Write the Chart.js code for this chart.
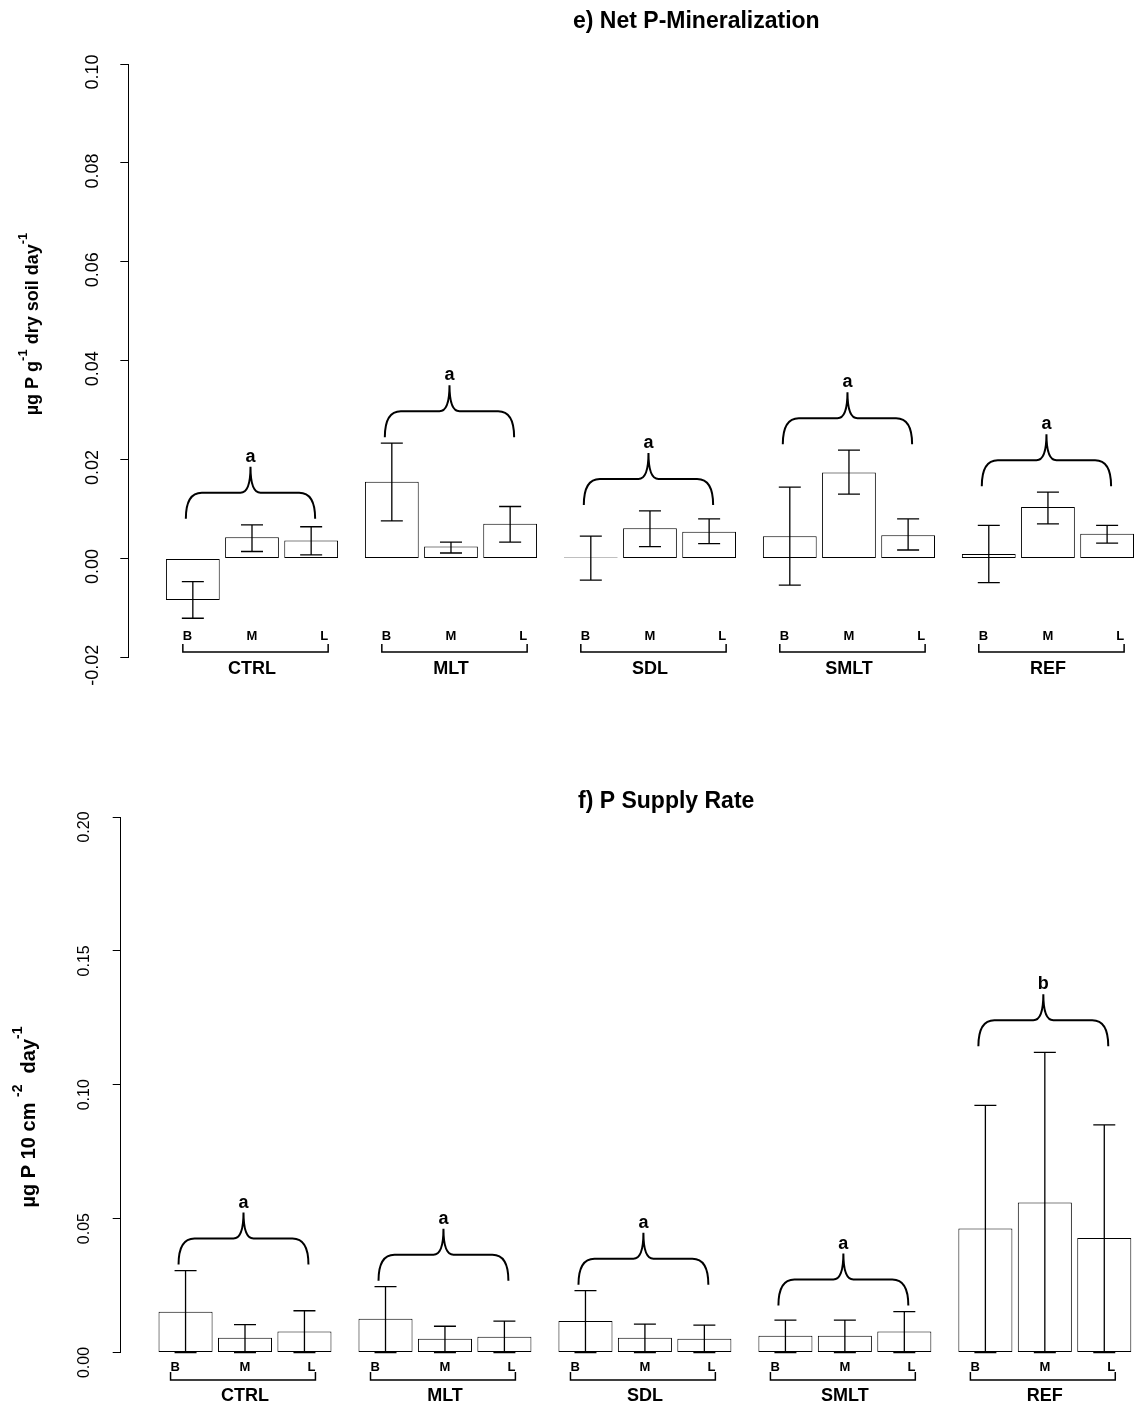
<!DOCTYPE html>
<html>
<head>
<meta charset="utf-8">
<script src="https://cdn.jsdelivr.net/npm/chart.js@4.4.0/dist/chart.umd.min.js"></script>
<style>
  html, body { margin: 0; padding: 0; background: #fff; }
  .panel { position: absolute; left: 0; width: 1134px; height: 706px; }
  #top { top: 0; }
  #bottom { top: 706px; }
</style>
</head>
<body>
<div class="panel" id="top"><canvas id="mineralChart"></canvas></div>
<div class="panel" id="bottom"><canvas id="supplyChart"></canvas></div>
<script>
// Treatments and the three levels inside each one
const groups = ['CTRL', 'MLT', 'SDL', 'SMLT', 'REF'];
const levels = ['B', 'M', 'L'];

// e) Net P-Mineralization, order: CTRL B,M,L  MLT B,M,L  SDL ...  SMLT ...  REF ...
const mineralMean = [
    -0.0084, 0.0043, 0.0036,
    0.0155, 0.0024, 0.0070,
    0.0002, 0.0061, 0.0054,
    0.0045, 0.0174, 0.0047,
    0.0009, 0.0104, 0.0050
];
const mineralLow = [
    -0.0121, 0.0014, 0.0007,
    0.0076, 0.0011, 0.0033,
    -0.0044, 0.0024, 0.0030,
    -0.0054, 0.0130, 0.0017,
    -0.0049, 0.0070, 0.0031
];
const mineralHigh = [
    -0.0047, 0.0068, 0.0064,
    0.0233, 0.0033, 0.0105,
    0.0045, 0.0096, 0.0080,
    0.0144, 0.0219, 0.0080,
    0.0067, 0.0134, 0.0067
];
const mineralLetters = ['a', 'a', 'a', 'a', 'a'];
const mineralTicks = [-0.02, 0, 0.02, 0.04, 0.06, 0.08, 0.10];

// f) P Supply Rate
const supplyMean = [
    0.0152, 0.0055, 0.0078,
    0.0126, 0.0051, 0.0059,
    0.0118, 0.0055, 0.0051,
    0.0063, 0.0063, 0.0078,
    0.0463, 0.0560, 0.0428
];
const supplyLow = [
    0, 0, 0,
    0, 0, 0,
    0, 0, 0,
    0, 0, 0,
    0, 0, 0
];
const supplyHigh = [
    0.0306, 0.0104, 0.0156,
    0.0246, 0.0098, 0.0117,
    0.0231, 0.0106, 0.0102,
    0.0121, 0.0121, 0.0153,
    0.0923, 0.1121, 0.0850
];
const supplyLetters = ['a', 'a', 'a', 'a', 'b'];
const supplyTicks = [0, 0.05, 0.10, 0.15, 0.20];

const FONT = '"Liberation Sans", Arial, Helvetica, sans-serif';

// Rotated axis title with superscripts
function drawAxisTitle(ctx, cx, cy, parts, size) {
    const supSize = Math.round(size * 0.72);
    ctx.save();
    ctx.translate(cx, cy);
    ctx.rotate(-Math.PI / 2);
    ctx.textAlign = 'left';
    ctx.textBaseline = 'middle';
    const widths = parts.map(p => {
        ctx.font = 'bold ' + (p.sup ? supSize : size) + 'px ' + FONT;
        return ctx.measureText(p.text).width;
    });
    let x = -widths.reduce((a, b) => a + b, 0) / 2;
    parts.forEach((p, i) => {
        ctx.font = 'bold ' + (p.sup ? supSize : size) + 'px ' + FONT;
        ctx.fillText(p.text, x, p.sup ? -size * 0.55 : 0);
        x += widths[i];
    });
    ctx.restore();
}

// Error bars, braces with letters, level labels, brackets, titles
function annotations(s) {
    return {
        id: 'annotations',
        afterDatasetsDraw(chart) {
            const ctx = chart.ctx;
            const y = chart.scales.y;
            const bars = chart.getDatasetMeta(0).data;
            ctx.save();
            ctx.strokeStyle = '#000';
            ctx.fillStyle = '#000';

            ctx.lineWidth = 1.3;
            bars.forEach((bar, i) => {
                const yl = y.getPixelForValue(s.low[i]);
                const yh = y.getPixelForValue(s.high[i]);
                ctx.beginPath();
                ctx.moveTo(bar.x, yl);
                ctx.lineTo(bar.x, yh);
                ctx.moveTo(bar.x - 11, yl);
                ctx.lineTo(bar.x + 11, yl);
                ctx.moveTo(bar.x - 11, yh);
                ctx.lineTo(bar.x + 11, yh);
                ctx.stroke();
            });

            groups.forEach((name, g) => {
                const b = bars[g * 3], m = bars[g * 3 + 1], l = bars[g * 3 + 2];
                const peak = Math.min(...s.high.slice(g * 3, g * 3 + 3).map(v => y.getPixelForValue(v)));

                // curly brace over the group
                const left = b.x - 7, right = l.x + 4, mid = (left + right) / 2;
                const yb = peak - 6, yh = yb - 26, yt = yh - 26;
                ctx.lineWidth = 2;
                ctx.beginPath();
                ctx.moveTo(left, yb);
                ctx.quadraticCurveTo(left, yh, left + 16, yh);
                ctx.lineTo(mid - 10, yh);
                ctx.quadraticCurveTo(mid, yh, mid, yt);
                ctx.quadraticCurveTo(mid, yh, mid + 10, yh);
                ctx.lineTo(right - 16, yh);
                ctx.quadraticCurveTo(right, yh, right, yb);
                ctx.stroke();
                ctx.font = 'bold 18px ' + FONT;
                ctx.textAlign = 'center';
                ctx.textBaseline = 'middle';
                ctx.fillText(s.letters[g], mid, yt - 10);

                // bracket under the group with B M L and the treatment
                const bl = b.x + s.bracketLeft, br = l.x + s.bracketRight;
                ctx.lineWidth = 1.5;
                ctx.beginPath();
                ctx.moveTo(bl, s.bracketY - 8);
                ctx.lineTo(bl, s.bracketY);
                ctx.lineTo(br, s.bracketY);
                ctx.lineTo(br, s.bracketY - 8);
                ctx.stroke();
                ctx.font = 'bold 13px ' + FONT;
                ctx.textAlign = 'left';
                ctx.fillText(levels[0], bl, s.levelY);
                ctx.textAlign = 'center';
                ctx.fillText(levels[1], m.x, s.levelY);
                ctx.textAlign = 'right';
                ctx.fillText(levels[2], br, s.levelY);
                ctx.font = 'bold 18px ' + FONT;
                ctx.textAlign = 'center';
                ctx.fillText(name, m.x, s.nameY);
            });

            drawAxisTitle(ctx, s.yTitleX, s.yTitleY, s.yTitle, s.yTitleSize);

            ctx.font = 'bold 23px ' + FONT;
            ctx.textAlign = 'left';
            ctx.textBaseline = 'alphabetic';
            ctx.fillText(s.title, s.titleX, s.titleY);
            ctx.restore();
        }
    };
}

function makeChart(id, s) {
    // bar centres: groups 3.7 units apart, bars 1.1 apart, bar width 1 unit
    const points = s.mean.map((v, i) => ({
        x: 1.2 + Math.floor(i / 3) * 3.7 + (i % 3) * 1.1,
        y: v
    }));
    return new Chart(document.getElementById(id), {
        type: 'bar',
        data: {
            datasets: [{
                data: points,
                backgroundColor: '#fff',
                borderColor: '#000',
                borderWidth: 1,
                borderSkipped: false,
                inflateAmount: 0,
                categoryPercentage: 1,
                barPercentage: 1 / 1.1
            }]
        },
        options: {
            responsive: true,
            maintainAspectRatio: false,
            animation: false,
            layout: { padding: { top: s.padTop, bottom: s.padBottom, left: 0, right: 0 } },
            plugins: { legend: { display: false }, tooltip: { enabled: false } },
            scales: {
                x: { type: 'linear', min: 0, max: s.xMax, offset: false, display: false, ticks: { stepSize: 5 } },
                y: {
                    min: s.ticks[0],
                    max: s.ticks[s.ticks.length - 1],
                    afterBuildTicks: sc => { sc.ticks = s.ticks.map(v => ({ value: v })); },
                    afterFit: sc => { sc.width = s.axisX; },
                    border: { display: true, color: '#000', width: 1 },
                    grid: { drawOnChartArea: false, drawTicks: true, tickLength: 8, color: '#000' },
                    ticks: {
                        autoSkip: false,
                        minRotation: 90,
                        maxRotation: 90,
                        crossAlign: 'center',
                        padding: s.tickPad,
                        labelOffset: s.labelOffset,
                        color: '#000',
                        font: { family: FONT, size: s.tickSize },
                        callback: v => v.toFixed(2)
                    }
                }
            }
        },
        plugins: [annotations(s)]
    });
}

makeChart('mineralChart', {
    mean: mineralMean, low: mineralLow, high: mineralHigh, letters: mineralLetters, ticks: mineralTicks,
    axisX: 128.3, xMax: 18.7, padTop: 64, padBottom: 48.7,
    tickSize: 18, tickPad: 7, labelOffset: 8,
    levelY: 636, bracketY: 652, nameY: 669, bracketLeft: -10, bracketRight: 17,
    title: 'e) Net P-Mineralization', titleX: 573, titleY: 28,
    yTitleX: 33, yTitleY: 324, yTitleSize: 18,
    yTitle: [
        { text: 'µg P g' }, { text: '-1', sup: true },
        { text: ' dry soil day' }, { text: '-1', sup: true }
    ]
});

makeChart('supplyChart', {
    mean: supplyMean, low: supplyLow, high: supplyHigh, letters: supplyLetters, ticks: supplyTicks,
    axisX: 120.7, xMax: 18.75, padTop: 111, padBottom: 59.5,
    tickSize: 16, tickPad: 12.6, labelOffset: 10,
    levelY: 661, bracketY: 674, nameY: 690, bracketLeft: -15, bracketRight: 11,
    title: 'f) P Supply Rate', titleX: 578, titleY: 102,
    yTitleX: 29, yTitleY: 411, yTitleSize: 20,
    yTitle: [
        { text: 'µg P 10 cm ' }, { text: '-2', sup: true },
        { text: '  day' }, { text: '-1', sup: true }
    ]
});
</script>
</body>
</html>
